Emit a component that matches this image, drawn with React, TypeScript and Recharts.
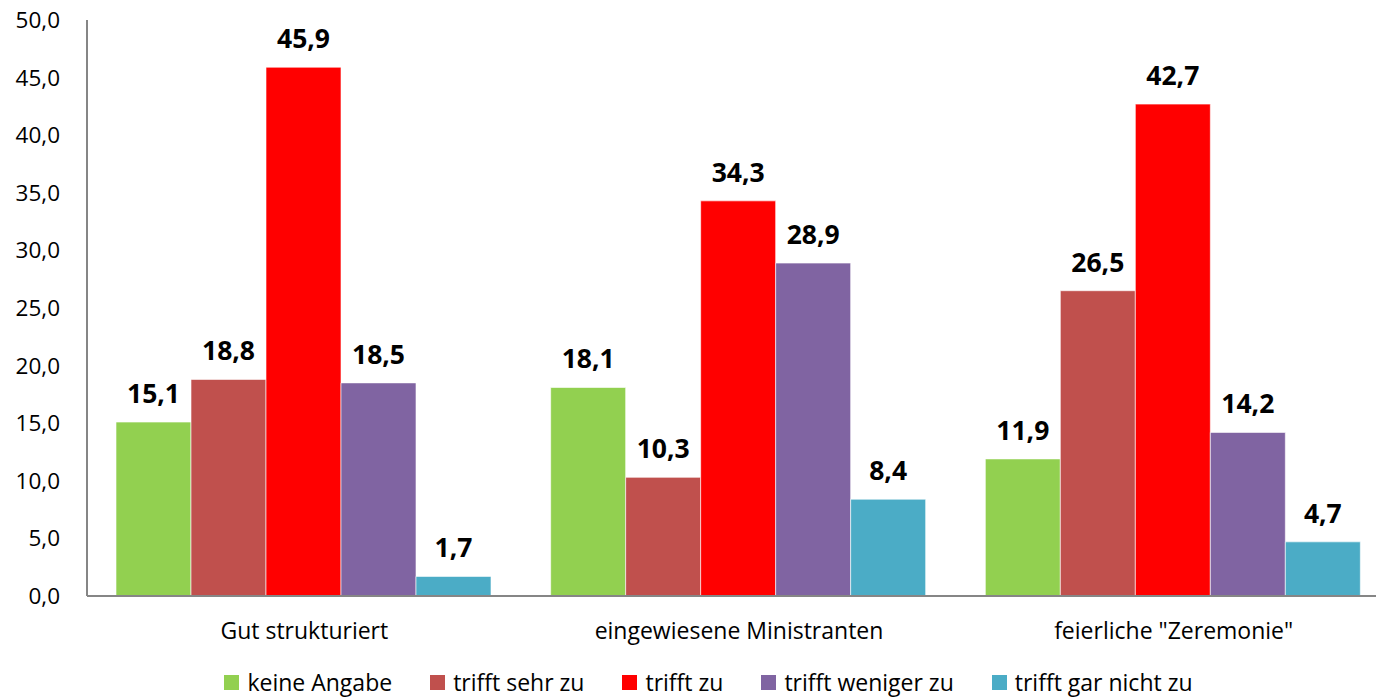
import React from "react";
import { BarChart, Bar, XAxis, YAxis, LabelList, Legend } from "recharts";

const categories = ["Gut strukturiert", "eingewiesene Ministranten", 'feierliche "Zeremonie"'];
const seriesNames = ["keine Angabe", "trifft sehr zu", "trifft zu", "trifft weniger zu", "trifft gar nicht zu"];
const seriesColors = ["#92D050", "#C0504D", "#FF0000", "#8064A2", "#4BACC6"];
const keineAngabe = [15.1, 18.1, 11.9];
const trifftSehrZu = [18.8, 10.3, 26.5];
const trifftZu = [45.9, 34.3, 42.7];
const trifftWenigerZu = [18.5, 28.9, 14.2];
const trifftGarNichtZu = [1.7, 8.4, 4.7];
const yTicks = [0, 5, 10, 15, 20, 25, 30, 35, 40, 45, 50];

const seriesValues = [keineAngabe, trifftSehrZu, trifftZu, trifftWenigerZu, trifftGarNichtZu];
const data = categories.map((c, i) => {
  const row: any = { name: c };
  seriesNames.forEach((s, j) => {
    row[s] = seriesValues[j][i];
  });
  return row;
});

const fmt = (v: number) => v.toFixed(1).replace(".", ",");
const FONT = "'Open Sans', sans-serif";

const LegendContent = () => (
  <div
    style={{
      display: "flex",
      justifyContent: "center",
      alignItems: "center",
      fontFamily: FONT,
      fontSize: 23,
      lineHeight: "24px",
      height: 24,
      color: "#000",
      gap: 38,
      marginLeft: 26,
    }}
  >
    {seriesNames.map((s, i) => (
      <div key={s} style={{ display: "flex", alignItems: "center" }}>
        <span style={{ display: "inline-block", width: 15, height: 15, background: seriesColors[i], marginRight: 8 }} />
        <span>{s}</span>
      </div>
    ))}
  </div>
);

export default function App() {
  return (
    <div style={{ position: "absolute", left: 0, top: 0, width: 1376, height: 698, overflow: "hidden", background: "#fff" }}>
      <BarChart
        width={1400}
        height={698}
        data={data}
        margin={{ top: 20, right: 9, left: 0, bottom: 4 }}
        barCategoryGap={29}
        barGap={0}
      >
        <XAxis
          dataKey="name"
          axisLine={{ stroke: "#868686", strokeWidth: 2 }}
          tickLine={false}
          tick={{ fill: "#000", fontSize: 23, fontFamily: FONT }}
          tickMargin={21}
          height={74}
          interval={0}
        />
        <YAxis
          domain={[0, 50]}
          ticks={yTicks}
          interval={0}
          tickFormatter={fmt}
          axisLine={{ stroke: "#868686", strokeWidth: 2 }}
          tickLine={false}
          tickSize={0}
          tickMargin={27}
          width={87}
          tick={{ fill: "#000", fontSize: 22.5, fontFamily: FONT }}
        />
        <Legend verticalAlign="bottom" height={24} content={<LegendContent />} />
        {seriesNames.map((s, i) => (
          <Bar key={s} dataKey={s} fill={seriesColors[i]} stroke="#ffffff" strokeWidth={0.6} isAnimationActive={false}>
            <LabelList
              dataKey={s}
              position="top"
              offset={19}
              formatter={(v: any) => fmt(Number(v))}
              style={{ fill: "#000", fontSize: 26.5, fontWeight: 700, fontFamily: FONT }}
            />
          </Bar>
        ))}
      </BarChart>
    </div>
  );
}
